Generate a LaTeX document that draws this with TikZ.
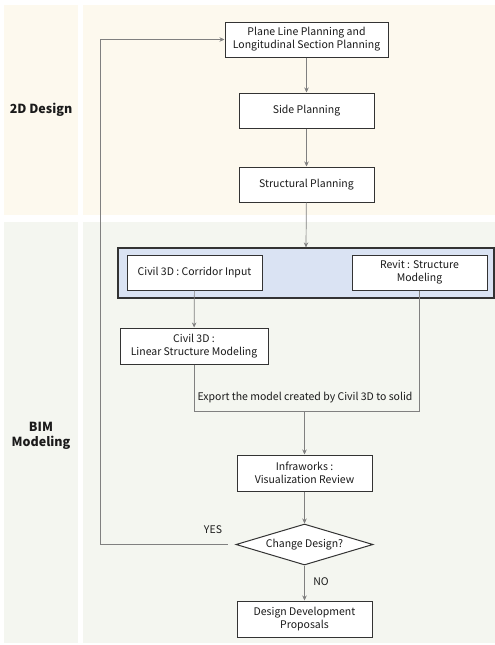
\documentclass[tikz,border=0pt]{standalone}
\usepackage{fontspec}
\setmainfont{Noto Sans CJK KR}
\usetikzlibrary{shapes.geometric,arrows.meta}
\definecolor{cream}{HTML}{FDF9EE}
\definecolor{sage}{HTML}{F4F6F0}
\definecolor{grpblue}{HTML}{DAE3F3}
\definecolor{connc}{HTML}{808080}
\definecolor{edgec}{HTML}{333333}
\definecolor{txtc}{HTML}{1A1A1A}
\begin{document}
\begin{tikzpicture}[x=1pt,y=-1pt,
  box/.style={draw=edgec, line width=1pt, fill=white, inner sep=0pt, align=center, text=txtc,
              font=\fontsize{10.5}{13}\selectfont},
  conn/.style={draw=connc, line width=0.7pt},
  arr/.style={conn, -{Stealth[length=5pt,width=4.5pt]}},
  lbl/.style={text=txtc, font=\fontsize{10.5}{13}\selectfont, inner sep=0pt},
  side/.style={text=txtc, font=\bfseries\fontsize{12.5}{15}\selectfont, align=center, inner sep=0pt}
]
\useasboundingbox (0,0) rectangle (495,645);
\fill[white] (0,0) rectangle (495,645);
\fill[cream] (4,5) rectangle (78,215);
\fill[cream] (83,5) rectangle (495,215);
\fill[sage] (4,222) rectangle (78,643);
\fill[sage] (83,222) rectangle (495,643);

\node[side] (l2d) at (41,110) {2D Design};
\node[side] (lbim) at (41,436) {BIM\\Modeling};

\node[box, minimum width=163pt, minimum height=35pt] (plane) at (306.5,39.5) {Plane Line Planning and\\Longitudinal Section Planning};
\node[box, minimum width=135pt, minimum height=35pt] (sidep) at (306.5,110.5) {Side Planning};
\node[box, minimum width=135pt, minimum height=35pt] (struct) at (306.5,184.5) {Structural Planning};

\node[draw=edgec, line width=1.2pt, fill=grpblue, minimum width=376pt, minimum height=50pt, inner sep=0pt] (grp) at (306,273) {};
\node[box, minimum width=135pt, minimum height=35pt] (corr) at (194.5,272.5) {Civil 3D : Corridor Input};
\node[box, minimum width=135pt, minimum height=35pt] (revit) at (419.5,272.5) {Revit : Structure\\Modeling};

\node[box, minimum width=148pt, minimum height=36pt] (lin) at (194,346) {Civil 3D :\\Linear Structure Modeling};
\node[box, minimum width=135pt, minimum height=36pt] (infra) at (304.5,473) {Infraworks :\\Visualization Review};
\node[box, shape=diamond, shape aspect=3.34, minimum width=137pt, minimum height=41pt] (dia) at (304.5,544.5) {Change Design?};
\node[box, minimum width=135pt, minimum height=36pt] (ddp) at (304.5,619) {Design Development\\Proposals};

\draw[arr] (plane) -- (sidep);
\draw[arr] (sidep) -- (struct);
\draw[arr] (struct) -- (grp.north);
\draw[arr] (corr) -- (lin);

\coordinate (jl) at (194,411);
\coordinate (jr) at (419.5,411);
\draw[conn] (lin.south) -- (jl) -- (jr) -- (revit.south);
\coordinate (jm) at (304.5,411);
\draw[arr] (jm) -- (infra.north);
\node[lbl] (exp) at (305,398) {Export the model created by Civil 3D to solid};

\draw[arr] (infra) -- (dia);
\draw[arr] (dia) -- (ddp);
\node[lbl] (no) at (321,582) {NO};
\node[lbl] (yes) at (213,530) {YES};

\coordinate (lb) at (100,544.5);
\coordinate (lt) at (100,39.5);
\draw[conn] (dia.west) ++(-8,0) -- (lb) -- (lt);
\draw[arr] (lt) -- (plane.west);
\end{tikzpicture}
\end{document}
